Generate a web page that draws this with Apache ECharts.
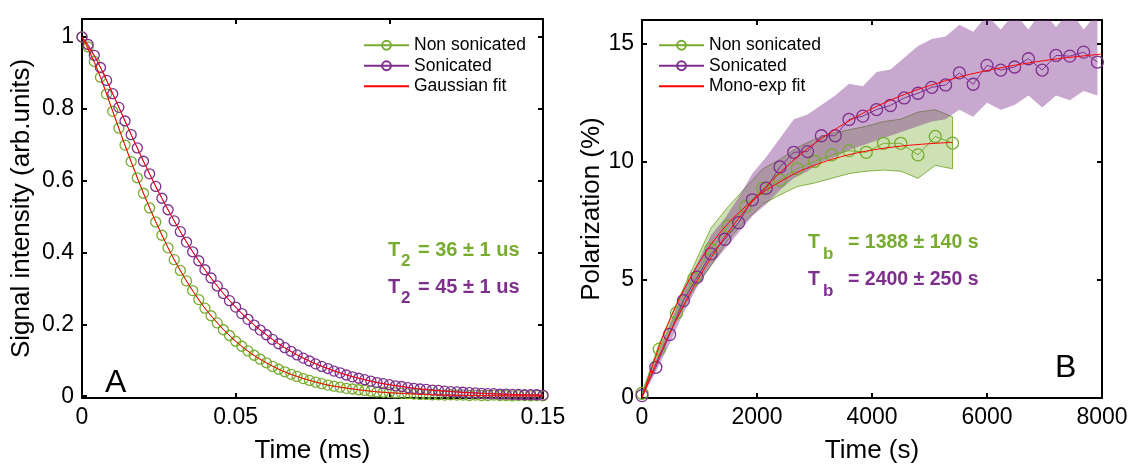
<!DOCTYPE html>
<html><head><meta charset="utf-8">
<script src="https://cdn.jsdelivr.net/npm/echarts@6/dist/echarts.min.js"></script>
<style>html,body{margin:0;padding:0;background:#fff}#c{width:1131px;height:469px}</style>
</head><body><div id="c"></div>
<script>
// ---------- Panel A data (time in ms) ----------
const tLeft = [0,0.002,0.004,0.006,0.008,0.010,0.012,0.014,0.016,0.018,0.020,0.022,0.024,0.026,0.028,0.030,0.032,0.034,0.036,0.038,0.040,0.042,0.044,0.046,0.048,0.050,0.052,0.054,0.056,0.058,0.060,0.062,0.064,0.066,0.068,0.070,0.072,0.074,0.076,0.078,0.080,0.082,0.084,0.086,0.088,0.090,0.092,0.094,0.096,0.098,0.100,0.102,0.104,0.106,0.108,0.110,0.112,0.114,0.116,0.118,0.120,0.122,0.124,0.126,0.128,0.130,0.132,0.134,0.136,0.138,0.140,0.142,0.144,0.146,0.148,0.150];
const nonSonA = [1.000,0.972,0.932,0.888,0.841,0.793,0.746,0.699,0.653,0.608,0.565,0.524,0.485,0.448,0.413,0.380,0.350,0.321,0.294,0.269,0.245,0.224,0.204,0.185,0.169,0.153,0.139,0.126,0.114,0.103,0.093,0.083,0.075,0.068,0.061,0.055,0.049,0.044,0.039,0.035,0.031,0.028,0.025,0.022,0.020,0.018,0.016,0.014,0.012,0.011,0.010,0.009,0.008,0.007,0.006,0.005,0.005,0.004,0.004,0.003,0.004,0.003,0.003,0.002,0.003,0.002,0.002,0.003,0.002,0.002,0.001,0.002,0.002,0.001,0.002,0.001];
const sonA = [1.000,0.979,0.949,0.915,0.879,0.842,0.804,0.766,0.728,0.691,0.654,0.619,0.584,0.551,0.519,0.488,0.458,0.429,0.402,0.377,0.352,0.329,0.307,0.286,0.266,0.248,0.230,0.214,0.198,0.184,0.171,0.158,0.146,0.135,0.125,0.115,0.106,0.098,0.090,0.083,0.077,0.070,0.065,0.059,0.054,0.050,0.046,0.042,0.038,0.035,0.032,0.029,0.027,0.024,0.022,0.020,0.019,0.017,0.016,0.014,0.013,0.012,0.011,0.010,0.009,0.008,0.007,0.007,0.006,0.006,0.005,0.005,0.004,0.004,0.004,0.003];
const tFitA = [0,0.005,0.010,0.015,0.020,0.025,0.030,0.035,0.040,0.045,0.050,0.055,0.060,0.065,0.070,0.075,0.080,0.085,0.090,0.095,0.100,0.105,0.110,0.115,0.120,0.125,0.130,0.135,0.140,0.145,0.150];
const fitNonSonA = [1,0.910,0.793,0.675,0.565,0.467,0.380,0.307,0.245,0.195,0.153,0.119,0.093,0.071,0.055,0.042,0.031,0.024,0.018,0.013,0.0098,0.0073,0.0054,0.0039,0.0029,0.0021,0.0015,0.0011,0.0008,0.0006,0.0004];
const fitSonA = [1,0.932,0.842,0.747,0.654,0.567,0.488,0.416,0.352,0.296,0.248,0.206,0.171,0.140,0.115,0.094,0.077,0.062,0.050,0.040,0.032,0.026,0.020,0.016,0.013,0.010,0.008,0.0063,0.005,0.0038,0.003];
const yTicksA = [0,0.2,0.4,0.6,0.8,1];

// ---------- Panel B data (time in s) ----------
const tNonSonB = [0,300,600,900,1200,1500,1800,2100,2400,2700,3000,3300,3600,3900,4200,4500,4800,5100,5400];
const nonSonB = [0.2,2.07,3.6,5.05,6.3,7.28,8.1,8.87,9.22,9.71,10.01,10.29,10.47,10.4,10.78,10.78,10.29,11.07,10.79];
const nonSonBUpper = [0.2,2.3,4.0,5.6,7.2,8.1,8.9,9.7,10.1,10.6,10.95,11.2,11.35,11.5,11.7,11.8,12.1,12.2,11.9];
const nonSonBLower = [0.1,1.8,3.3,4.6,5.6,6.7,7.5,8.2,8.6,8.95,9.1,9.3,9.5,9.6,9.65,9.6,9.3,9.85,9.7];
const tSonB = [0,240,480,720,960,1200,1440,1680,1920,2160,2400,2640,2880,3120,3360,3600,3840,4080,4320,4560,4800,5040,5280,5520,5760,6000,6240,6480,6720,6960,7200,7440,7680,7920];
const sonB = [0.1,1.3,2.69,4.12,5.12,6.1,6.72,7.42,8.39,8.88,9.78,10.4,10.43,11.1,11.1,11.79,11.93,12.21,12.38,12.7,12.9,13.15,13.25,13.76,13.28,14.08,13.88,14.01,14.36,13.88,14.5,14.47,14.64,14.22];
const sonBUpper = [0.2,1.6,3.1,4.6,5.7,6.9,7.6,8.5,9.5,10.2,11.0,11.8,12.0,12.4,12.8,13.3,13.2,13.8,13.9,14.4,14.9,15.2,15.3,15.8,15.5,16.2,15.6,16.3,15.6,16.4,15.7,16.4,15.6,16.3];
const sonBLower = [0.0,1.1,2.3,3.6,4.7,5.6,6.3,7.0,7.7,8.2,8.8,9.3,9.6,10.0,10.2,10.5,10.7,10.9,11.1,11.3,11.5,11.7,11.8,12.2,11.9,12.5,12.2,12.4,12.8,12.3,12.8,12.6,13.0,12.8];
const tFitNonSonB = [0,300,600,900,1200,1500,1800,2100,2400,2700,3000,3300,3600,3900,4200,4500,4800,5100,5400];
const fitNonSonB = [0,2.2,3.95,5.35,6.5,7.4,8.1,8.7,9.15,9.55,9.85,10.1,10.3,10.45,10.57,10.66,10.73,10.78,10.82];
const tFitSonB = [0,400,800,1200,1600,2000,2400,2800,3200,3600,4000,4400,4800,5200,5600,6000,6400,6800,7200,7600,8000];
const fitSonB = [0,2.32,4.28,5.94,7.35,8.54,9.54,10.40,11.12,11.73,12.25,12.69,13.06,13.37,13.64,13.86,14.05,14.21,14.35,14.46,14.56];
const yTicksB = [0,5,10,15];

// ---------- styling ----------
const GREEN = '#77AC30', PURPLE = '#7E2F8E', RED = '#FF0000';
const FONT = '"Liberation Sans", Arial, sans-serif';
const zip = (a, b) => a.map((v, i) => [v, b[i]]);

function axisBase(extra) {
  return Object.assign({
    type: 'value',
    axisLine: { show: true, onZero: false, lineStyle: { color: '#000', width: 2 } },
    axisTick: { show: true, inside: true, length: 5, lineStyle: { color: '#000', width: 2 } },
    axisLabel: { color: '#000', fontSize: 23, fontFamily: FONT, margin: 8, formatter: v => String(v) },
    splitLine: { show: false },
    nameTextStyle: { color: '#000', fontSize: 26, fontFamily: FONT }
  }, extra);
}
function mirror(a, pos) {
  const m = Object.assign({}, a);
  m.position = pos; m.name = '';
  m.axisLabel = Object.assign({}, a.axisLabel, { show: false });
  return m;
}

const xA = axisBase({ gridIndex: 0, min: 0, max: 0.15, interval: 0.05, name: 'Time (ms)', nameLocation: 'middle', nameGap: 40, position: 'bottom' });
const yA = axisBase({ gridIndex: 0, min: -0.005, max: 1.05, name: 'Signal intensity (arb.units)', nameLocation: 'middle', nameGap: 47, position: 'left' });
yA.axisLabel.customValues = yTicksA; yA.axisTick.customValues = yTicksA;
yA.axisLabel.formatter = v => String(Math.round(v * 10) / 10);
const xB = axisBase({ gridIndex: 1, min: 0, max: 8000, interval: 2000, name: 'Time (s)', nameLocation: 'middle', nameGap: 40, position: 'bottom' });
const yB = axisBase({ gridIndex: 1, min: 0, max: 16, name: 'Polarization (%)', nameLocation: 'middle', nameGap: 36, position: 'left' });
yB.axisLabel.customValues = yTicksB; yB.axisTick.customValues = yTicksB;

function band(times, lo, hi, fill, stroke, xi, yi, z) {
  return {
    type: 'custom', xAxisIndex: xi, yAxisIndex: yi, clip: true, silent: true, z: z,
    data: [[times[0], lo[0]]],
    renderItem: (params, api) => {
      const pts = [];
      for (let i = 0; i < times.length; i++) pts.push(api.coord([times[i], hi[i]]));
      for (let i = times.length - 1; i >= 0; i--) pts.push(api.coord([times[i], lo[i]]));
      return { type: 'polygon', shape: { points: pts }, style: { fill: fill, stroke: stroke || null, lineWidth: stroke ? 1 : 0 } };
    }
  };
}
function dataLine(name, xs, ys, color, size, xi, yi, z) {
  return {
    name: name, type: 'line', xAxisIndex: xi, yAxisIndex: yi, data: zip(xs, ys), z: z,
    symbol: 'circle', symbolSize: size, showAllSymbol: true,
    lineStyle: { color: color, width: 1 }, itemStyle: { color: 'rgba(255,255,255,0)', borderColor: color, borderWidth: 1.3 },
    emphasis: { disabled: true }, animation: false
  };
}
function fitLine(name, xs, ys, xi, yi) {
  return {
    name: name, type: 'line', xAxisIndex: xi, yAxisIndex: yi, data: zip(xs, ys), z: 5,
    symbol: 'none', smooth: 0.3, lineStyle: { color: RED, width: 1 }, itemStyle: { color: RED },
    emphasis: { disabled: true }, animation: false
  };
}

function txt(x, y, s, size, color, bold) {
  return { type: 'text', x: x, y: y, style: { text: s, fontSize: size, fontWeight: bold ? 'bold' : 'normal', fill: color, fontFamily: FONT, verticalAlign: 'middle', align: 'left' } };
}

const legendCommon = {
  orient: 'vertical', itemWidth: 45, itemHeight: 11, itemGap: 0, padding: 0,
  textStyle: { color: '#000', fontSize: 17.5, fontFamily: FONT, lineHeight: 20.5 },
  selectedMode: false
};

const option = {
  animation: false,
  backgroundColor: '#fff',
  grid: [
    { left: 82, right: 588, top: 19, bottom: 66 },
    { left: 642, right: 29, top: 20, bottom: 66 }
  ],
  xAxis: [xA, mirror(xA, 'top'), xB, mirror(xB, 'top')],
  yAxis: [yA, mirror(yA, 'right'), yB, mirror(yB, 'right')],
  legend: [
    Object.assign({ left: 363, top: 35, data: ['Non sonicated', 'Sonicated', { name: 'Gaussian fit', itemStyle: { opacity: 0 } }] }, legendCommon),
    Object.assign({ left: 658, top: 35, data: ['Non sonicated', 'Sonicated', { name: 'Mono-exp fit', itemStyle: { opacity: 0 } }] }, legendCommon)
  ],
  series: [
    dataLine('Non sonicated', tLeft, nonSonA, GREEN, 10, 0, 0, 3),
    dataLine('Sonicated', tLeft, sonA, PURPLE, 10, 0, 0, 4),
    fitLine('Gaussian fit', tFitA, fitNonSonA, 0, 0),
    fitLine('Gaussian fit', tFitA, fitSonA, 0, 0),
    band(tNonSonB, nonSonBLower, nonSonBUpper, 'rgba(119,172,48,0.36)', 'rgba(119,172,48,0.9)', 2, 2, 1),
    band(tSonB, sonBLower, sonBUpper, 'rgba(126,47,142,0.42)', null, 2, 2, 2),
    dataLine('Non sonicated', tNonSonB, nonSonB, GREEN, 12, 2, 2, 3),
    dataLine('Sonicated', tSonB, sonB, PURPLE, 12, 2, 2, 4),
    fitLine('Mono-exp fit', tFitNonSonB, fitNonSonB, 2, 2),
    fitLine('Mono-exp fit', tFitSonB, fitSonB, 2, 2)
  ],
  graphic: [
    txt(388, 250, 'T', 20, GREEN, true), txt(401, 261, '2', 17, GREEN, true), txt(418, 250, '= 36 ± 1 us', 20, GREEN, true),
    txt(388, 287, 'T', 20, PURPLE, true), txt(401, 298, '2', 17, PURPLE, true), txt(418, 287, '= 45 ± 1 us', 20, PURPLE, true),
    txt(808, 243, 'T', 19.5, GREEN, true), txt(823, 254, 'b', 17, GREEN, true), txt(848, 243, '= 1388 ± 140 s', 19.5, GREEN, true),
    txt(808, 280, 'T', 19.5, PURPLE, true), txt(823, 291, 'b', 17, PURPLE, true), txt(848, 280, '= 2400 ± 250 s', 19.5, PURPLE, true),
    txt(105, 383, 'A', 32, '#000', false),
    txt(1055, 368, 'B', 32, '#000', false)
  ]
};

const chart = echarts.init(document.getElementById('c'), null, { renderer: 'canvas' });
chart.setOption(option);
</script>
</body></html>
